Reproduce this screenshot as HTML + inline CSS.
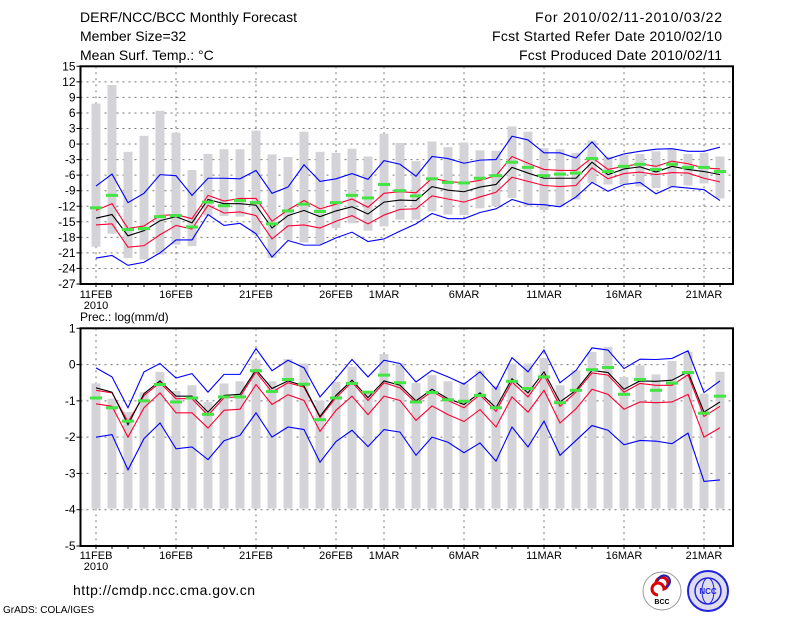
<!DOCTYPE html>
<html><head><meta charset="utf-8"><style>
body{margin:0;background:#fff}
svg{display:block;font-family:"Liberation Sans",sans-serif}
</style></head><body>
<svg id="chart" width="800" height="618" viewBox="0 0 800 618" xmlns="http://www.w3.org/2000/svg">
<g font-size="14" fill="#000">
<text x="80" y="22">DERF/NCC/BCC Monthly Forecast</text>
<text x="80" y="41">Member Size=32</text>
<text x="80" y="60">Mean Surf. Temp.: °C</text>
</g>
<g font-size="14" fill="#000" text-anchor="end">
<text x="722" y="22" textLength="187">For 2010/02/11-2010/03/22</text>
<text x="722" y="41" textLength="230">Fcst Started Refer Date 2010/02/10</text>
<text x="722" y="60" textLength="203">Fcst Produced Date 2010/02/11</text>
</g>
<text x="80" y="321" font-size="12">Prec.: log(mm/d)</text>
<g id="top"></g>
<g id="bot"></g>
<text x="73" y="595" font-size="14" textLength="182">http://cmdp.ncc.cma.gov.cn</text>
<text x="3" y="613" font-size="10">GrADS: COLA/IGES</text>
<g>
<circle cx="662" cy="591" r="19" fill="#fff" stroke="#999" stroke-width="1"/>
<path d="M656 583 a6 6 0 1 1 8 6 a6 6 0 1 0 -6 6" fill="none" stroke="#d00" stroke-width="3"/>
<path d="M658 581 a6 6 0 1 1 8 6" fill="none" stroke="#22a" stroke-width="2"/>
<text x="662" y="604" font-size="7" text-anchor="middle" font-weight="bold">BCC</text>
</g>
<g>
<circle cx="708" cy="591" r="20" fill="#dde" stroke="#22d" stroke-width="2"/>
<circle cx="708" cy="591" r="13" fill="none" stroke="#22d" stroke-width="1.5"/>
<ellipse cx="708" cy="591" rx="6" ry="13" fill="none" stroke="#22d" stroke-width="1"/>
<text x="708" y="594" font-size="8" text-anchor="middle" fill="#22d" font-weight="bold">NCC</text>
</g>
</svg>
<script>
// day indices 0..39 = 11FEB..22MAR
const xLabels = ["11FEB","16FEB","21FEB","26FEB","1MAR","6MAR","11MAR","16MAR","21MAR"];
const xLabelDays = [0,5,10,15,18,23,28,33,38];
const tTicks = [15,12,9,6,3,0,-3,-6,-9,-12,-15,-18,-21,-24,-27];
const pTicks = [1,0,-1,-2,-3,-4,-5];

// temperature
const tBarTop = [7.8,11.4,-1.5,1.6,6.4,2.2,-5,-1.9,-1,-1,2.6,-2,-2.5,2.4,-1.5,-1.7,-0.9,-2.4,2,0.2,-3.3,0.5,-0.6,0.3,-1.2,-1.3,3.4,2.4,-0.8,-1,-1.7,0.7,-2.4,-2.1,-1.9,-1.4,-1,-1.9,-1.7,-2.4];
const tBarBot = [-19.8,-17.3,-22,-22.3,-21.3,-19.4,-19.7,-13.8,-13.9,-14,-17.5,-22,-18.5,-19,-19.3,-16.2,-15.3,-16.7,-15.9,-14.6,-14.6,-13,-13.6,-13.7,-12.4,-12,-10.4,-12,-12.7,-12.1,-10.7,-7.5,-7.8,-7.8,-8.2,-8.5,-8.2,-8,-7.6,-10.5];
const tGreen = [-12.3,-9.9,-16.5,-16.3,-14,-13.8,-16,-11.2,-11.9,-10.9,-11.3,-15.4,-12.9,-11.6,-13,-11.3,-9.9,-10.4,-7.8,-9,-10,-6.7,-7.4,-7.5,-6.6,-6.1,-3.5,-4.5,-6.1,-5.8,-5.6,-2.8,-5.3,-4.3,-3.9,-4.9,-3.9,-4.5,-4.5,-5.3];
const tBlueHi = [-8.1,-5.8,-11.3,-9.5,-5.9,-6.1,-9.9,-6.6,-6.6,-6.7,-5.1,-9.5,-8.3,-4,-7.2,-6.7,-5.7,-6.8,-3.2,-3.9,-6.2,-2.4,-2.8,-3.7,-3.1,-3,1.5,0.8,-1.7,-1.7,-2.7,0.4,-2.9,-1.9,-1.4,-1,-0.9,-1.4,-1.4,-0.6];
const tRedHi = [-12.8,-11.5,-16.3,-15.8,-13.8,-13.6,-14.4,-9.9,-11,-10.5,-10.5,-14.9,-12.7,-10.9,-12.5,-11.6,-10.6,-12.2,-9.5,-9.2,-9.4,-6.6,-7.2,-7.5,-7,-6.1,-2.4,-3.7,-4.9,-5.1,-5.1,-2.6,-4.9,-4.3,-3.8,-4.3,-3.3,-3.8,-4.6,-4.8];
const tMean = [-14.3,-13.6,-17.7,-16.7,-14.8,-14,-15.2,-10.7,-11.5,-11.5,-11.8,-16.2,-13.8,-12.8,-14,-12.9,-12.1,-13.5,-11.2,-10.8,-10.9,-8.2,-8.9,-9.2,-8.3,-7.8,-4.5,-5.6,-6.6,-6.6,-6.6,-3.5,-5.9,-4.8,-4.4,-5.4,-4.3,-4.9,-5.3,-5.9];
const tRedLo = [-15.6,-15.4,-19.9,-19.6,-17.5,-15.7,-16.4,-11.8,-13.3,-13.1,-13.8,-18.3,-15.8,-15.6,-16.2,-14.9,-13.8,-15.4,-13.7,-12.6,-12.5,-10,-10.6,-11.2,-10.2,-9.3,-6.4,-7.2,-8,-8.2,-8,-4.6,-6.7,-5.7,-5.4,-5.9,-5.5,-5.6,-6.6,-7.3];
const tBlueLo = [-22,-21.5,-23.4,-22.8,-21,-18.5,-18.5,-13.6,-15.7,-15.3,-17.3,-21.8,-18.6,-19.5,-19.5,-18.1,-17,-18.8,-18.3,-16.8,-15.4,-13.4,-14.4,-14.4,-13.2,-12.5,-10.7,-11.6,-11.7,-12.1,-10.2,-7.4,-9.1,-7.8,-7.4,-9.6,-8.2,-8.5,-8.8,-10.9];

// precipitation
const pBarTop = [-0.52,-0.94,-1.31,-0.76,-0.2,-0.73,-0.57,-1.03,-0.52,-0.46,0.12,-0.46,0.15,0.03,-0.99,-0.48,-0.06,-0.76,0.29,0.03,-0.51,-0.29,-0.46,-0.52,-0.16,-0.59,0.03,0.03,0.18,-0.57,-0.16,0.35,0.49,-0.34,-0.02,-0.27,0.1,0.35,-0.8,-0.2];
const pBarBot = [-3.97,-3.97,-3.97,-3.97,-3.97,-3.97,-3.97,-3.97,-3.97,-3.97,-3.97,-3.97,-3.97,-3.97,-3.97,-3.97,-3.97,-3.97,-3.97,-3.97,-3.97,-3.97,-3.97,-3.97,-3.97,-3.97,-3.97,-3.97,-3.97,-3.97,-3.97,-3.97,-3.97,-3.97,-3.97,-3.97,-3.97,-3.97,-3.97,-3.97];
const pGreen = [-0.92,-1.19,-1.56,-1,-0.55,-1.03,-0.92,-1.37,-0.89,-0.89,-0.17,-0.74,-0.41,-0.54,-1.52,-0.92,-0.52,-0.76,-0.29,-0.5,-1.03,-0.77,-0.97,-1.01,-0.85,-1.19,-0.46,-0.66,-0.34,-1.05,-0.71,-0.14,-0.08,-0.82,-0.41,-0.71,-0.51,-0.22,-1.34,-0.87];
const pBlueHi = [-0.09,-0.34,-1.19,-0.2,0.03,-0.37,-0.25,-0.76,-0.27,-0.27,0.44,-0.17,0.12,-0.09,-0.89,-0.39,0.14,-0.34,0.12,0.03,-0.48,-0.16,-0.34,-0.54,-0.2,-0.68,0.19,-0.2,0.4,-0.5,-0.16,0.46,0.4,-0.11,0.15,0.14,0.17,0.38,-0.77,-0.45];
const pMean = [-0.64,-0.76,-1.66,-0.8,-0.45,-0.87,-0.87,-1.31,-0.85,-0.82,-0.14,-0.66,-0.45,-0.59,-1.43,-0.85,-0.43,-0.91,-0.45,-0.57,-1,-0.68,-0.94,-1.1,-0.78,-1.19,-0.39,-0.78,-0.2,-1.03,-0.71,-0.16,-0.22,-0.68,-0.45,-0.46,-0.43,-0.2,-1.31,-1.03];
const pRedHi = [-0.71,-0.78,-1.58,-0.85,-0.5,-0.94,-0.94,-1.4,-0.91,-0.89,-0.2,-0.76,-0.5,-0.62,-1.46,-0.91,-0.48,-0.99,-0.5,-0.64,-1.06,-0.74,-0.99,-1.19,-0.83,-1.29,-0.48,-0.89,-0.29,-1.15,-0.76,-0.23,-0.29,-0.76,-0.52,-0.57,-0.57,-0.28,-1.43,-1.15];
const pRedLo = [-1.08,-1.15,-2,-1.19,-0.78,-1.33,-1.33,-1.75,-1.26,-1.23,-0.55,-1.1,-0.83,-0.99,-1.84,-1.26,-0.87,-1.38,-0.87,-0.99,-1.54,-1.14,-1.38,-1.57,-1.24,-1.72,-0.89,-1.31,-0.71,-1.61,-1.22,-0.68,-0.82,-1.23,-1.03,-1.05,-1.03,-0.82,-2,-1.74];
const pBlueLo = [-2,-1.93,-2.9,-2.04,-1.61,-2.32,-2.27,-2.62,-2.1,-1.95,-1.33,-2,-1.72,-1.79,-2.69,-2.12,-1.81,-2.26,-1.79,-1.86,-2.5,-2,-2.14,-2.43,-2.16,-2.66,-1.72,-2.27,-1.56,-2.5,-2.09,-1.68,-1.81,-2.21,-2.09,-2.11,-2.18,-1.89,-3.22,-3.18];

const NS="http://www.w3.org/2000/svg";
const X0=80.5, X1=733;
function xs(i){return 96+16*i;}
function mk(parent,tag,attrs){const e=document.createElementNS(NS,tag);for(const k in attrs)e.setAttribute(k,attrs[k]);parent.appendChild(e);return e;}

function panel(g,top,bottom,vmax,vmin,ticks,series,labelY,name){
  const ys=v=>top+(vmax-v)*(bottom-top)/(vmax-vmin);
  ticks.forEach(t=>{
    if(t===vmax||t===vmin)return;
    const l=mk(g,'line',{x1:X0,x2:X1,y1:ys(t),y2:ys(t),stroke:'#777','stroke-dasharray':'2,4','stroke-width':1});
    
    
  });
  xLabelDays.forEach(d=>{
    const l=mk(g,'line',{x1:xs(d),x2:xs(d),y1:top,y2:bottom,stroke:'#777','stroke-dasharray':'2,4','stroke-width':1});
    
    
  });
  for(let i=0;i<series.barTop.length;i++){
    const y1=ys(series.barTop[i]),y2=ys(series.barBot[i]);
    const r=mk(g,'rect',{x:xs(i)-4.5,y:y1,width:9,height:y2-y1,fill:'#d4d4d8'});
    
    
  }
  [[series.blueHi,'#0000ff'],[series.blueLo,'#0000ff'],[series.redHi,'#ff0033'],[series.redLo,'#ff0033'],[series.mean,'#000']].forEach(([arr,c])=>{
    const p=mk(g,'polyline',{points:arr.map((v,i)=>xs(i)+','+ys(v)).join(' '),fill:'none',stroke:c,'stroke-width':1.1});
    
    
  });
  series.green.forEach((v,i)=>{
    const r=mk(g,'rect',{x:xs(i)-6,y:ys(v)-1.5,width:12,height:3,fill:'#44e444'});
    
    
  });
  const f=mk(g,'rect',{x:X0,y:top,width:X1-X0,height:bottom-top,fill:'none',stroke:'#000','stroke-width':2});
  
  
  ticks.forEach(t=>{
    mk(g,'line',{x1:X0-4,x2:X0,y1:ys(t),y2:ys(t),stroke:'#000'});
    const tx=mk(g,'text',{x:X0-5,y:ys(t)+4,'font-size':12,'text-anchor':'end'});
    tx.textContent=t;
    
    
  });
  for(let i=0;i<40;i++) mk(g,'line',{x1:xs(i),x2:xs(i),y1:bottom,y2:bottom+3,stroke:'#000'});
  xLabels.forEach((s,k)=>{
    const tx=mk(g,'text',{x:xs(xLabelDays[k]),y:labelY,'font-size':11,'text-anchor':'middle'});
    tx.textContent=s;
    
    
  });
  const yr=mk(g,'text',{x:xs(0),y:labelY+11,'font-size':11,'text-anchor':'middle'});
  yr.textContent='2010';
  
  
}
panel(document.getElementById('top'),66.3,284,15,-27,tTicks,
 {barTop:tBarTop,barBot:tBarBot,green:tGreen,blueHi:tBlueHi,redHi:tRedHi,mean:tMean,redLo:tRedLo,blueLo:tBlueLo},298,'temperature');
panel(document.getElementById('bot'),328.3,546,1,-5,pTicks,
 {barTop:pBarTop,barBot:pBarBot,green:pGreen,blueHi:pBlueHi,redHi:pRedHi,mean:pMean,redLo:pRedLo,blueLo:pBlueLo},559,'precipitation');
</script>
</body></html>
